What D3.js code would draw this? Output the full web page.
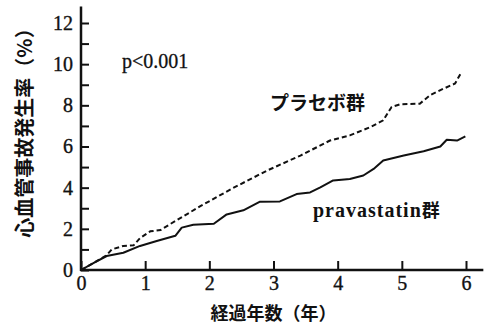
<!DOCTYPE html>
<html>
<head>
<meta charset="utf-8">
<script src="https://cdn.jsdelivr.net/npm/d3@7"></script>
<style>
  html, body { margin: 0; padding: 0; background: #fff; }
  svg { display: block; }
</style>
</head>
<body>
<svg id="chart" width="490" height="324"></svg>
<script>
// ---- data ----
const placeboYears = [0, 0.2, 0.4, 0.48, 0.66, 0.82, 0.92, 1.08, 1.24, 1.39, 1.86, 2.38, 2.90, 3.42, 3.88, 4.19, 4.51, 4.71, 4.84, 4.97, 5.28, 5.44, 5.65, 5.83, 5.93];
const placeboRate  = [0, 0.35, 0.72, 1.0, 1.17, 1.2, 1.55, 1.88, 1.94, 2.23, 3.1, 4.0, 4.83, 5.56, 6.29, 6.54, 6.94, 7.27, 7.92, 8.05, 8.08, 8.49, 8.81, 9.06, 9.62];
const pravaYears = [0, 0.2, 0.4, 0.66, 0.92, 1.18, 1.47, 1.57, 1.75, 2.07, 2.27, 2.53, 2.79, 3.10, 3.36, 3.57, 3.73, 3.93, 4.19, 4.40, 4.56, 4.71, 5.03, 5.34, 5.60, 5.70, 5.86, 5.99];
const pravaRate  = [0, 0.35, 0.68, 0.84, 1.17, 1.41, 1.66, 2.06, 2.2, 2.25, 2.7, 2.9, 3.32, 3.33, 3.69, 3.77, 4.01, 4.35, 4.42, 4.59, 4.91, 5.32, 5.56, 5.77, 6.0, 6.33, 6.29, 6.49];
const xTicks = [0, 1, 2, 3, 4, 5, 6];
const yTicks = [0, 1, 2, 3, 4, 5, 6, 7, 8, 9, 10, 11, 12];
const xTitle = "経過年数（年）";
const yTitle = "心血管事故発生率（%）";
const pText = "p<0.001";
const placeboLabel = "プラセボ群";
const pravaLabel = "pravastatin";
const groupSuffix = "群";

// ---- layout ----
const svg = d3.select("#chart");
const x = d3.scaleLinear().domain([0, 6]).range([81, 466]);
const y = d3.scaleLinear().domain([0, 12]).range([270, 23]);
const serif = "'Liberation Serif', 'Times New Roman', serif";
const cjk = "'Noto Sans CJK JP', sans-serif";
const ink = "#111";

// axes
const yAxis = d3.axisLeft(y).tickValues(yTicks).tickSizeInner(-8).tickSizeOuter(0).tickPadding(8)
  .tickFormat(d => d % 2 === 0 ? d : "");
const gy = svg.append("g").attr("transform", `translate(${x(0)},0)`).call(yAxis);
gy.select(".domain").remove();
gy.selectAll(".tick line").attr("stroke", ink).attr("stroke-width", 2);
gy.selectAll(".tick text").attr("font-family", serif).attr("font-size", 20).attr("fill", ink)
  .attr("stroke", ink).attr("stroke-width", 0.35);

const xAxis = d3.axisBottom(x).tickValues(xTicks).tickSizeInner(-9).tickSizeOuter(0).tickPadding(6)
  .tickFormat(d3.format("d"));
const gx = svg.append("g").attr("transform", `translate(0,${y(0)})`).call(xAxis);
gx.select(".domain").remove();
gx.selectAll(".tick line").attr("stroke", ink).attr("stroke-width", 2);
gx.selectAll(".tick text").attr("font-family", serif).attr("font-size", 20).attr("fill", ink)
  .attr("stroke", ink).attr("stroke-width", 0.35);

// axis lines (extended beyond the data range as in the reference)
svg.append("line").attr("x1", x(0)).attr("x2", x(0)).attr("y1", y(0) + 1).attr("y2", y(12.8))
  .attr("stroke", ink).attr("stroke-width", 2.5);
svg.append("line").attr("x1", x(0) - 1).attr("x2", x(6.27)).attr("y1", y(0)).attr("y2", y(0))
  .attr("stroke", ink).attr("stroke-width", 2.5);

// lines
const line = d3.line().x(d => x(d[0])).y(d => y(d[1]));
const placebo = placeboYears.map((v, i) => [v, placeboRate[i]]);
const prava = pravaYears.map((v, i) => [v, pravaRate[i]]);

svg.append("path").datum(prava).attr("d", line)
  .attr("fill", "none").attr("stroke", ink).attr("stroke-width", 2).attr("stroke-linejoin", "round");
svg.append("path").datum(placebo).attr("d", line)
  .attr("fill", "none").attr("stroke", ink).attr("stroke-width", 2).attr("stroke-dasharray", "5,3");

// titles
svg.append("text").attr("x", x(3)).attr("y", 320).attr("text-anchor", "middle")
  .attr("font-family", cjk).attr("font-weight", 700).attr("font-size", 18).attr("fill", ink)
  .text(xTitle);
svg.append("text").attr("transform", "translate(32,128) rotate(-90)").attr("text-anchor", "middle")
  .attr("font-family", cjk).attr("font-weight", 700).attr("font-size", 20).attr("fill", ink)
  .text(yTitle);

// annotations
svg.append("text").attr("x", 122).attr("y", 68)
  .attr("font-family", serif).attr("font-size", 20).attr("fill", ink)
  .attr("stroke", ink).attr("stroke-width", 0.3).text(pText);
svg.append("text").attr("x", 270).attr("y", 110)
  .attr("font-family", cjk).attr("font-weight", 700).attr("font-size", 19).attr("fill", ink)
  .text(placeboLabel);
const pl = svg.append("text").attr("x", 313).attr("y", 217).attr("fill", ink);
pl.append("tspan").attr("font-family", serif).attr("font-size", 20).attr("letter-spacing", 1)
  .attr("font-weight", 700).text(pravaLabel);
pl.append("tspan").attr("font-family", cjk).attr("font-weight", 700).attr("font-size", 18)
  .text(groupSuffix);
</script>
</body>
</html>
